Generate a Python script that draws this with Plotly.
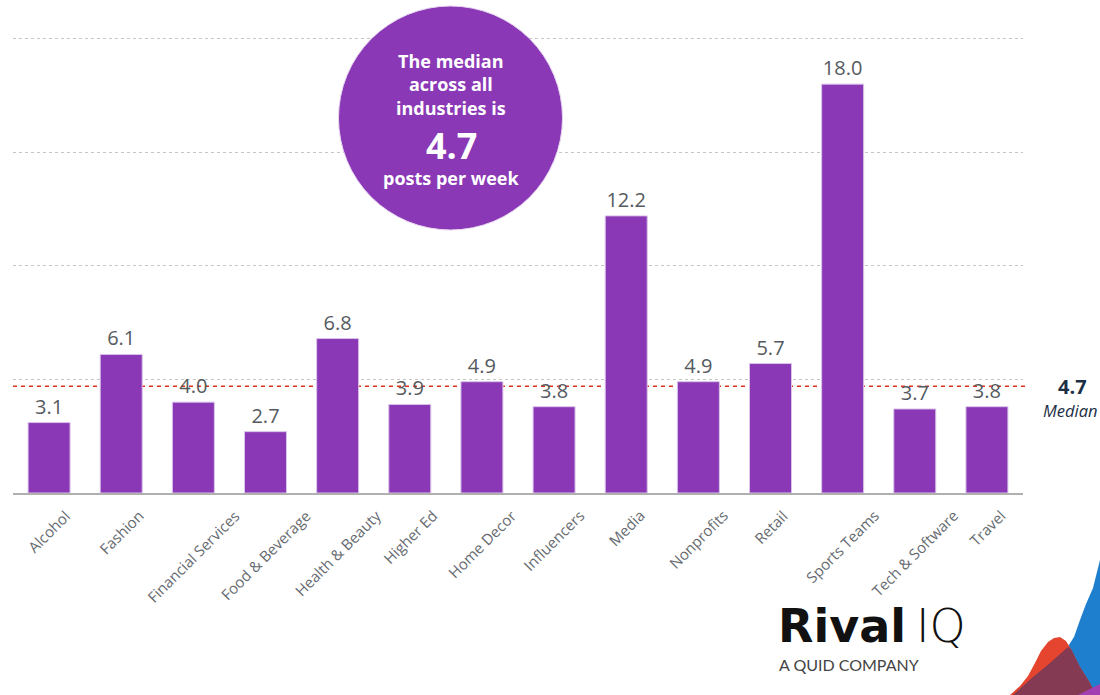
import plotly.graph_objects as go

# Average posts per week by industry
industries = [
    "Alcohol", "Fashion", "Financial Services", "Food & Beverage",
    "Health & Beauty", "Higher Ed", "Home Decor", "Influencers", "Media",
    "Nonprofits", "Retail", "Sports Teams", "Tech & Software", "Travel",
]
posts_per_week = [3.1, 6.1, 4.0, 2.7, 6.8, 3.9, 4.9, 3.8, 12.2, 4.9, 5.7, 18.0, 3.7, 3.8]
median_value = 4.7

W, H = 1100, 695
M_L, M_R, M_T, M_B = 13, 77, 16, 202
PW, PH = W - M_L - M_R, H - M_T - M_B

PURPLE = "#8a38b5"
FONT = "Open Sans"
NAVY = "#1b2f45"


def px(x):
    """Pixel x -> paper fraction."""
    return (x - M_L) / PW


def py(y):
    """Pixel y (from top) -> paper fraction."""
    return (H - M_B - y) / PH


def path(points):
    return "M " + " L ".join(f"{px(x):.5f},{py(y):.5f}" for x, y in points) + " Z"


fig = go.Figure()
fig.add_trace(go.Bar(
    x=industries,
    y=posts_per_week,
    marker=dict(color=PURPLE, line=dict(color="#d9c4ea", width=1)),
    texttemplate="%{y:.1f}",
    textposition="outside",
    textfont=dict(family=FONT, size=20, color="#555a60"),
    cliponaxis=False,
    hoverinfo="x+y",
))

shapes = [
    # median reference line
    dict(type="line", xref="paper", yref="y", x0=0, x1=px(1028),
         y0=median_value, y1=median_value, layer="below",
         line=dict(color="#e2321c", width=1.5, dash="4px,4px")),
    # callout bubble
    dict(type="circle", xref="paper", yref="paper",
         xsizemode="pixel", ysizemode="pixel",
         xanchor=px(450.5), yanchor=py(118),
         x0=-112, x1=112, y0=-112, y1=112,
         fillcolor=PURPLE, line=dict(color="#e6d6f0", width=1), layer="above"),
    # brand waves in the corner
    dict(type="path", xref="paper", yref="paper", layer="above",
         path=path([(1100, 560), (1093, 588), (1086, 604), (1080, 620),
                    (1074, 637), (1067, 648), (1050, 663), (1033, 677),
                    (1013, 695), (1100, 695)]),
         fillcolor="#1f7fcf", line=dict(width=0)),
    dict(type="path", xref="paper", yref="paper", layer="above",
         path=path([(1010, 695), (1020, 686), (1028, 676), (1035, 663),
                    (1041, 651), (1048, 642), (1054, 638), (1060, 637),
                    (1066, 641), (1071, 649), (1080, 667), (1090, 683),
                    (1096, 695)]),
         fillcolor="#e5452e", line=dict(width=0)),
    dict(type="path", xref="paper", yref="paper", layer="above",
         path=path([(1013, 695), (1033, 677), (1050, 663), (1068, 647),
                    (1071, 649), (1080, 667), (1090, 683), (1096, 695)]),
         fillcolor="#833a52", line=dict(width=0)),
    dict(type="path", xref="paper", yref="paper", layer="above",
         path=path([(1078, 695), (1090, 689), (1100, 684), (1100, 695)]),
         fillcolor="#a23fb2", line=dict(width=0)),
]

annotations = [
    dict(text="<b>The median<br>across all<br>industries is</b>",
         xref="paper", yref="paper", x=px(451), y=py(84),
         showarrow=False, align="center", xanchor="center", yanchor="middle",
         font=dict(family=FONT, size=18, color="white")),
    dict(text="<b>4.7</b>", xref="paper", yref="paper", x=px(451), y=py(145),
         showarrow=False, xanchor="center", yanchor="middle",
         font=dict(family=FONT, size=36, color="white")),
    dict(text="<b>posts per week</b>", xref="paper", yref="paper",
         x=px(451), y=py(178), showarrow=False, xanchor="center", yanchor="middle",
         font=dict(family=FONT, size=18, color="white")),
    # median label at the right edge
    dict(text=f"<b>{median_value}</b>", xref="paper", yref="y",
         x=px(1072), y=median_value, showarrow=False,
         xanchor="center", yanchor="middle",
         font=dict(family=FONT, size=20, color=NAVY)),
    dict(text="<i>Median</i>", xref="paper", yref="paper",
         x=px(1041), y=py(410), showarrow=False,
         xanchor="left", yanchor="middle",
         font=dict(family=FONT, size=16.5, color=NAVY)),
    # brand mark
    dict(text="<b>Rival</b>", xref="paper", yref="paper", x=px(776), y=py(655),
         xanchor="left", yanchor="bottom", showarrow=False,
         font=dict(family="DejaVu Sans", size=46, color="#111111")),
    dict(text="IQ", xref="paper", yref="paper", x=px(914), y=py(655),
         xanchor="left", yanchor="bottom", showarrow=False,
         font=dict(family="DejaVu Sans", size=46, color="#111111", weight=200)),
    dict(text="A QUID COMPANY", xref="paper", yref="paper", x=px(777), y=py(653),
         xanchor="left", yanchor="top", showarrow=False,
         font=dict(family="Lato", size=16, color="#444444")),
]

# category labels, rotated about their centres below each bar
for name in industries:
    annotations.append(dict(
        text=name, xref="x", yref="paper", x=name, y=py(503),
        xanchor="center", yanchor="top", textangle=-45, showarrow=False,
        font=dict(family=FONT, size=15, color="#666a70"),
    ))

fig.update_layout(
    width=W, height=H,
    margin=dict(l=M_L, r=M_R, t=M_T, b=M_B),
    paper_bgcolor="white", plot_bgcolor="white",
    bargap=0.418,
    showlegend=False,
    shapes=shapes,
    annotations=annotations,
    xaxis=dict(
        showticklabels=False,
        showline=True, linecolor="#b0b0b0", linewidth=1.5,
        ticks="", showgrid=False,
    ),
    yaxis=dict(
        range=[0, 21], dtick=5, showticklabels=False,
        showgrid=True, gridcolor="#c6c6c6", griddash="dot", gridwidth=1,
        zeroline=False, showline=False,
    ),
)

fig.write_html("out.html")
